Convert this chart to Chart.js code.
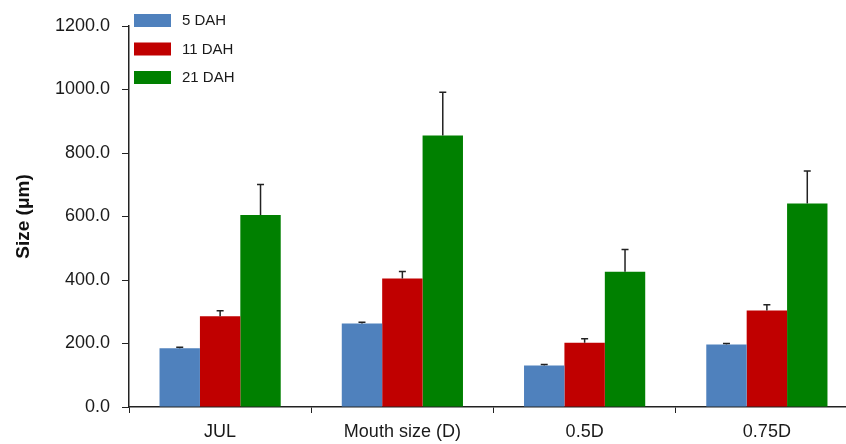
<!DOCTYPE html>
<html>
<head>
<meta charset="utf-8">
<script src="https://cdn.jsdelivr.net/npm/chart.js@4.4.0/dist/chart.umd.min.js"></script>
<style>
    html, body { margin: 0; padding: 0; background: #fff; overflow: hidden; }
    #wrap { position: relative; width: 858px; height: 444px; }
</style>
</head>
<body>
<div id="wrap"><canvas id="myChart"></canvas></div>
<script>
// dados
const categorias = ['JUL', 'Mouth size (D)', '0.5D', '0.75D'];
const seriesNomes = ['5 DAH', '11 DAH', '21 DAH'];
const dah5 = [185, 263, 131, 197];
const dah11 = [286, 405, 202, 304];
const dah21 = [605, 855, 426, 641];
const erro5 = [3, 4, 3, 3];
const erro11 = [17, 22, 13, 18];
const erro21 = [96, 136, 70, 102];
const yTicks = [0, 200, 400, 600, 800, 1000, 1200];

const cores = ['#4F81BD', '#C00000', '#008000'];
const fonte = "'Liberation Sans', Arial, sans-serif";

// barras de erro (só a parte de cima)
const errorBars = {
    id: 'errorBars',
    afterDatasetsDraw(chart) {
        const ctx = chart.ctx;
        const yScale = chart.scales.y;
        ctx.save();
        ctx.strokeStyle = '#222';
        ctx.lineWidth = 1.5;
        chart.data.datasets.forEach((ds, i) => {
            const meta = chart.getDatasetMeta(i);
            meta.data.forEach((bar, j) => {
                const topo = yScale.getPixelForValue(ds.data[j] + ds.erros[j]);
                ctx.beginPath();
                ctx.moveTo(bar.x, bar.y);
                ctx.lineTo(bar.x, topo);
                ctx.moveTo(bar.x - 3.5, topo);
                ctx.lineTo(bar.x + 3.5, topo);
                ctx.stroke();
            });
        });
        ctx.restore();
    }
};

// legenda desenhada dentro da área do gráfico
const legendaInterna = {
    id: 'legendaInterna',
    afterDraw(chart) {
        const ctx = chart.ctx;
        ctx.save();
        ctx.font = '15px ' + fonte;
        ctx.textBaseline = 'middle';
        chart.data.datasets.forEach((ds, i) => {
            const y = 14 + i * 28.5;
            ctx.fillStyle = ds.backgroundColor;
            ctx.fillRect(134, y, 37, 13);
            ctx.fillStyle = '#1a1a1a';
            ctx.fillText(ds.label, 182, y + 7);
        });
        ctx.restore();
    }
};

const ctx = document.getElementById('myChart').getContext('2d');

const myChart = new Chart(ctx, {
    type: 'bar',
    data: {
        labels: categorias,
        datasets: [
            { label: seriesNomes[0], data: dah5, erros: erro5, backgroundColor: cores[0] },
            { label: seriesNomes[1], data: dah11, erros: erro11, backgroundColor: cores[1] },
            { label: seriesNomes[2], data: dah21, erros: erro21, backgroundColor: cores[2] }
        ]
    },
    options: {
        responsive: true,
        maintainAspectRatio: false,
        animation: false,
        categoryPercentage: 0.665,
        barPercentage: 1.0,
        layout: { padding: { top: 26, right: 0, bottom: 0, left: 0 } },
        plugins: {
            legend: { display: false },
            tooltip: { enabled: false }
        },
        scales: {
            x: {
                afterFit(scale) {
                    scale.height = 37;
                },
                grid: { drawOnChartArea: false, drawTicks: true, tickLength: 6, color: '#222', offset: true },
                border: { display: true, color: '#222', width: 1.5 },
                ticks: { color: '#1a1a1a', font: { family: fonte, size: 18 }, padding: 8 }
            },
            y: {
                min: 0,
                max: 1200,
                afterBuildTicks(scale) {
                    scale.ticks = yTicks.map(v => ({ value: v }));
                },
                afterFit(scale) {
                    scale.width = 129;
                },
                grid: { drawOnChartArea: false, drawTicks: true, tickLength: 7, color: '#222' },
                border: { display: true, color: '#222', width: 1.5 },
                ticks: {
                    color: '#1a1a1a',
                    font: { family: fonte, size: 18 },
                    padding: 12,
                    callback: v => Number(v).toFixed(1)
                },
                title: {
                    display: true,
                    text: 'Size (μm)',
                    color: '#111',
                    font: { family: fonte, size: 19, weight: 'bold' },
                    padding: { top: 12, bottom: 0 }
                }
            }
        }
    },
    plugins: [errorBars, legendaInterna]
});
</script>
</body>
</html>
